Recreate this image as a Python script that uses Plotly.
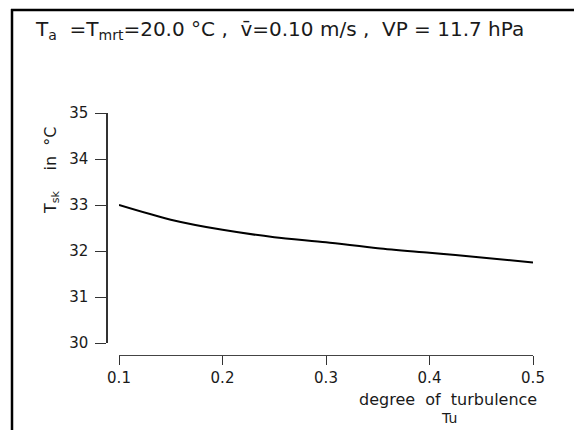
import plotly.graph_objects as go

# Data
tu = [0.10, 0.15, 0.20, 0.25, 0.30, 0.35, 0.40, 0.45, 0.50]
t_sk = [33.00, 32.68, 32.46, 32.30, 32.19, 32.06, 31.96, 31.86, 31.75]

x_ticks = [0.1, 0.2, 0.3, 0.4, 0.5]
x_tick_labels = ["0.1", "0.2", "0.3", "0.4", "0.5"]
y_ticks = [30, 31, 32, 33, 34, 35]
y_tick_labels = ["30", "31", "32", "33", "34", "35"]

W, H = 574, 430
L, R, T, B = 107, 41, 113, 75
pw, ph = W - L - R, H - T - B

def px(x):
    return (x - L) / pw

def py(y):
    return (H - B - y) / ph

FONT = "DejaVu Sans"
INK = "#1a1a1a"

fig = go.Figure()
fig.add_trace(go.Scatter(
    x=tu, y=t_sk, mode="lines",
    line=dict(color="black", width=2, shape="spline", smoothing=0.8),
    showlegend=False, hoverinfo="skip",
))

fig.update_layout(
    width=W, height=H,
    margin=dict(l=L, r=R, t=T, b=B),
    paper_bgcolor="white", plot_bgcolor="white",
    font=dict(family=FONT, color=INK, size=15),
    xaxis=dict(
        range=[0.1, 0.5], domain=[px(119), 1.0], anchor="free", position=0,
        tickvals=x_ticks, ticktext=x_tick_labels,
        ticks="outside", ticklen=9, tickwidth=1.3, tickcolor="#333",
        showline=True, linecolor="#444", linewidth=1.3,
        showgrid=False, zeroline=False,
        tickfont=dict(size=15, family=FONT, color=INK),
    ),
    yaxis=dict(
        range=[30, 35], domain=[py(343), 1.0], anchor="free", position=0,
        tickvals=y_ticks, ticktext=y_tick_labels,
        ticks="outside", ticklen=11, tickwidth=1.3, tickcolor="#333",
        ticklabelstandoff=4,
        showline=True, linecolor="#333", linewidth=1.5,
        showgrid=False, zeroline=False,
        tickfont=dict(size=15, family=FONT, color=INK),
    ),
    shapes=[
        dict(type="line", xref="paper", yref="paper",
             x0=px(12), x1=px(12), y0=py(H + 5), y1=py(9),
             line=dict(color="black", width=2.5)),
        dict(type="line", xref="paper", yref="paper",
             x0=px(11), x1=px(W + 5), y0=py(10), y1=py(10),
             line=dict(color="black", width=2.5)),
    ],
    annotations=[
        dict(text="T<sub>a</sub>  =T<sub>mrt</sub>=20.0 °C ,  v̄=0.10 m/s ,  VP = 11.7 hPa",
             xref="paper", yref="paper", x=px(33), y=py(30),
             xanchor="left", yanchor="middle", showarrow=False,
             font=dict(size=20, family=FONT, color=INK)),
        dict(text="T<sub>sk</sub>    in  °C",
             xref="paper", yref="paper", x=px(51), y=py(170),
             xanchor="center", yanchor="middle", textangle=-90, showarrow=False,
             font=dict(size=16, family=FONT, color=INK)),
        dict(text="degree  of  turbulence",
             xref="paper", yref="paper", x=px(448), y=py(399),
             xanchor="center", yanchor="middle", showarrow=False,
             font=dict(size=16, family=FONT, color=INK)),
        dict(text="Tu",
             xref="paper", yref="paper", x=px(449), y=py(418),
             xanchor="center", yanchor="middle", showarrow=False,
             font=dict(size=14, family=FONT, color=INK)),
    ],
)

fig.write_html("out.html")
